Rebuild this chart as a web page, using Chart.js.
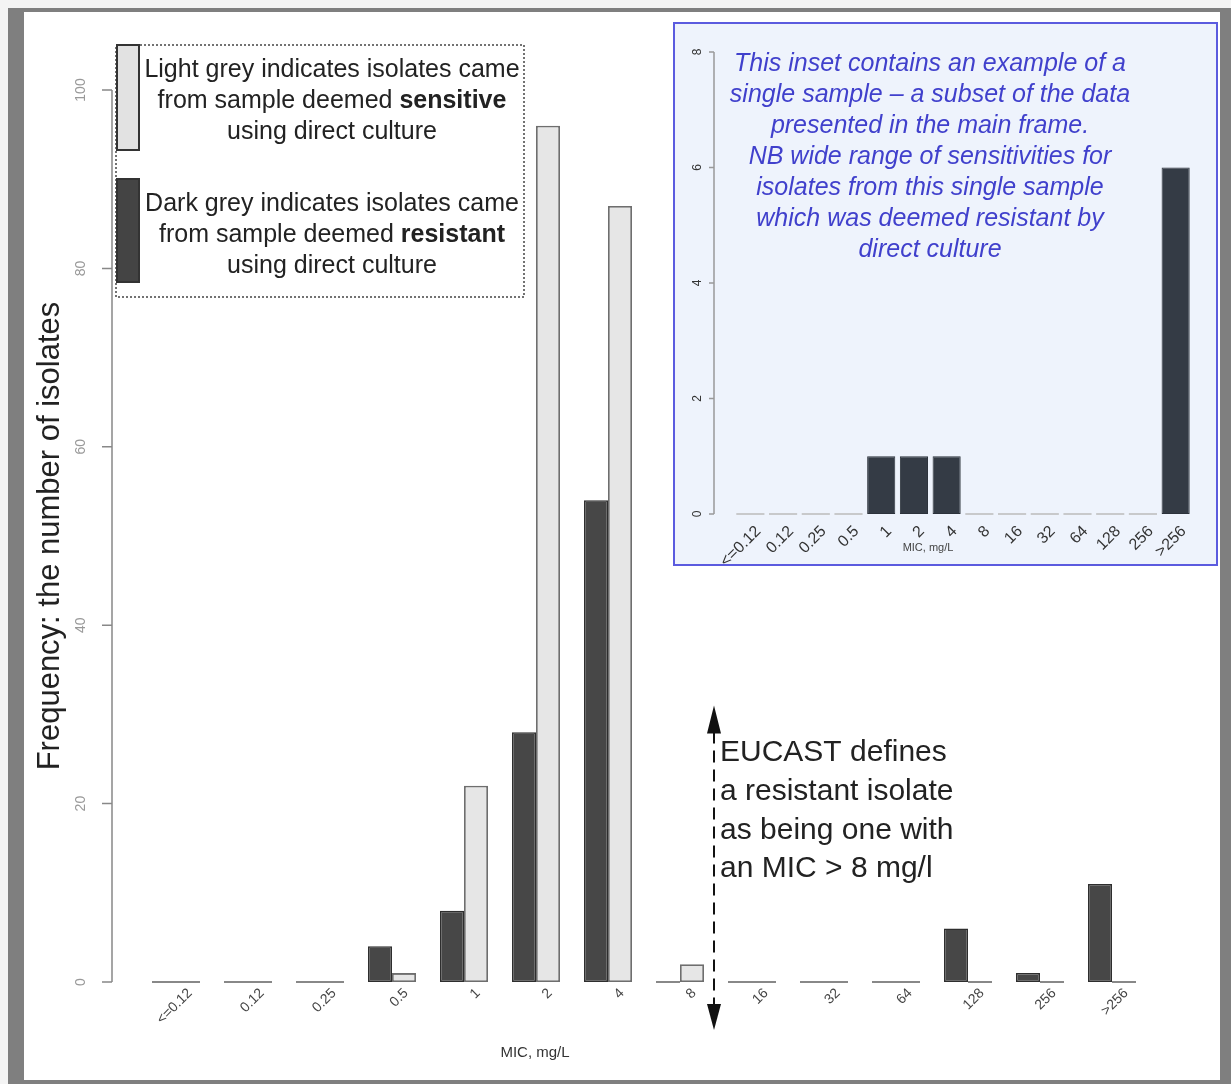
<!DOCTYPE html>
<html>
<head>
<meta charset="utf-8">
<script src="https://cdn.jsdelivr.net/npm/chart.js@4.4.1/dist/chart.umd.min.js"></script>
<style>
  html, body { margin: 0; padding: 0; background: #f4f4f4; }
  #frame {
    position: absolute; left: 8px; top: 8px;
    width: 1196px; height: 1068px;
    border-style: solid; border-color: #7f7f7f;
    border-width: 4px 11px 4px 16px;
    background: #fff;
  }
  #main { position: absolute; left: 0; top: 0; }
  #insetBox {
    position: absolute; left: 649px; top: 10px;
    width: 541px; height: 540px;
    border: 2px solid #5b5bdf;
    background: #eef3fc;
  }
  #inset { position: absolute; left: 0; top: 0; }
</style>
</head>
<body>
<div id="frame">
  <canvas id="main" width="1196" height="1068"></canvas>
  <div id="insetBox"><canvas id="inset" width="541" height="540"></canvas></div>
</div>
<script>
var FONT = '"Liberation Sans", Arial, sans-serif';

// MIC categories (mg/L)
var micLabels = ['<=0.12', '0.12', '0.25', '0.5', '1', '2', '4', '8', '16', '32', '64', '128', '256', '>256'];
// isolates from samples deemed resistant by direct culture (dark grey)
var resistantCounts = [0, 0, 0, 4, 8, 28, 54, 0, 0, 0, 0, 6, 1, 11];
// isolates from samples deemed sensitive by direct culture (light grey)
var sensitiveCounts = [0, 0, 0, 1, 22, 96, 87, 2, 0, 0, 0, 0, 0, 0];
// inset: a single resistant sample
var insetCounts = [0, 0, 0, 0, 1, 1, 1, 0, 0, 0, 0, 0, 0, 6];

var legendLight = [
    [['Light grey indicates isolates came', false]],
    [['from sample deemed ', false], ['sensitive', true]],
    [['using direct culture', false]]
];
var legendDark = [
    [['Dark grey indicates isolates came', false]],
    [['from sample deemed ', false], ['resistant', true]],
    [['using direct culture', false]]
];
var eucastLines = ['EUCAST defines', 'a resistant isolate', 'as being one with', 'an MIC > 8 mg/l'];
var insetLines = [
    'This inset contains an example of a',
    'single sample \u2013 a subset of the data',
    'presented in the main frame.',
    'NB wide range of sensitivities for',
    'isolates from this single sample',
    'which was deemed resistant by',
    'direct culture'
];

function richLine(ctx, parts, cx, y, size) {
    var total = 0;
    parts.forEach(function (p) {
        ctx.font = (p[1] ? 'bold ' : '') + size + 'px ' + FONT;
        total += ctx.measureText(p[0]).width;
    });
    var x = cx - total / 2;
    ctx.textAlign = 'left';
    parts.forEach(function (p) {
        ctx.font = (p[1] ? 'bold ' : '') + size + 'px ' + FONT;
        ctx.fillText(p[0], x, y);
        x += ctx.measureText(p[0]).width;
    });
}

// zero-height bars are shown as a flat line, like R's barplot
function zeroLines(color, width) {
    return {
        id: 'zeroLines',
        afterDatasetsDraw: function (chart) {
            var ctx = chart.ctx;
            ctx.save();
            ctx.strokeStyle = color;
            ctx.lineWidth = width;
            chart.data.datasets.forEach(function (ds, i) {
                chart.getDatasetMeta(i).data.forEach(function (bar, j) {
                    if (ds.data[j] !== 0) return;
                    ctx.beginPath();
                    ctx.moveTo(bar.x - bar.width / 2, bar.base);
                    ctx.lineTo(bar.x + bar.width / 2, bar.base);
                    ctx.stroke();
                });
            });
            ctx.restore();
        }
    };
}

// R style y axis: line between first and last tick, labels parallel to axis
function rAxis(gap, tickLen, labelGap, fontSize, lineColor, textColor) {
    return {
        id: 'rAxis',
        afterDraw: function (chart) {
            var ctx = chart.ctx, y = chart.scales.y;
            var ax = chart.chartArea.left - gap;
            var ticks = y.ticks;
            ctx.save();
            ctx.strokeStyle = lineColor;
            ctx.lineWidth = 1.5;
            ctx.beginPath();
            ctx.moveTo(ax, y.getPixelForValue(ticks[0].value));
            ctx.lineTo(ax, y.getPixelForValue(ticks[ticks.length - 1].value));
            ticks.forEach(function (t) {
                var py = y.getPixelForValue(t.value);
                ctx.moveTo(ax, py);
                ctx.lineTo(ax - tickLen, py);
            });
            ctx.stroke();
            ctx.fillStyle = textColor;
            ctx.font = fontSize + 'px ' + FONT;
            ctx.textAlign = 'center';
            ctx.textBaseline = 'middle';
            ticks.forEach(function (t) {
                ctx.save();
                ctx.translate(ax - labelGap, y.getPixelForValue(t.value));
                ctx.rotate(-Math.PI / 2);
                ctx.fillText(String(t.value), 0, 0);
                ctx.restore();
            });
            ctx.restore();
        }
    };
}

var mainNotes = {
    id: 'mainNotes',
    afterDraw: function (chart) {
        var ctx = chart.ctx, xs = chart.scales.x, ys = chart.scales.y, area = chart.chartArea;
        ctx.save();

        // legend
        ctx.setLineDash([2, 2]);
        ctx.strokeStyle = '#444';
        ctx.lineWidth = 1.5;
        ctx.strokeRect(92, 33, 408, 252);
        ctx.setLineDash([]);
        ctx.lineWidth = 2;
        ctx.fillStyle = '#e2e2e2';
        ctx.fillRect(93, 33, 22, 105);
        ctx.strokeStyle = '#333';
        ctx.strokeRect(93, 33, 22, 105);
        ctx.fillStyle = '#444';
        ctx.fillRect(93, 167, 22, 103);
        ctx.strokeRect(93, 167, 22, 103);

        ctx.fillStyle = '#222';
        ctx.textBaseline = 'middle';
        legendLight.forEach(function (l, i) { richLine(ctx, l, 308, 58 + i * 31, 25); });
        legendDark.forEach(function (l, i) { richLine(ctx, l, 308, 192 + i * 31, 25); });

        // EUCAST breakpoint arrow between 8 and 16
        var bx = (xs.getPixelForValue(7) + xs.getPixelForValue(8)) / 2 - 2;
        var top = ys.getPixelForValue(31);
        var bottom = area.bottom + 48;
        ctx.strokeStyle = '#111';
        ctx.lineWidth = 2;
        ctx.setLineDash([12, 7]);
        ctx.beginPath();
        ctx.moveTo(bx, top + 26);
        ctx.lineTo(bx, bottom - 24);
        ctx.stroke();
        ctx.setLineDash([]);
        ctx.fillStyle = '#111';
        ctx.beginPath();
        ctx.moveTo(bx, top);
        ctx.lineTo(bx - 7, top + 28);
        ctx.lineTo(bx + 7, top + 28);
        ctx.closePath();
        ctx.fill();
        ctx.beginPath();
        ctx.moveTo(bx, bottom);
        ctx.lineTo(bx - 7, bottom - 26);
        ctx.lineTo(bx + 7, bottom - 26);
        ctx.closePath();
        ctx.fill();

        ctx.fillStyle = '#222';
        ctx.font = '30px ' + FONT;
        ctx.textAlign = 'left';
        eucastLines.forEach(function (t, i) { ctx.fillText(t, bx + 6, 741 + i * 38.7); });

        // x axis title
        ctx.font = '15px ' + FONT;
        ctx.fillStyle = '#333';
        ctx.textAlign = 'center';
        ctx.fillText('MIC, mg/L', 511, 1041);
        ctx.restore();
    }
};

var insetNotes = {
    id: 'insetNotes',
    afterDraw: function (chart) {
        var ctx = chart.ctx;
        ctx.save();
        ctx.fillStyle = '#4040cc';
        ctx.font = 'italic 25px ' + FONT;
        ctx.textAlign = 'center';
        ctx.textBaseline = 'middle';
        insetLines.forEach(function (t, i) { ctx.fillText(t, 255, 40 + i * 31); });
        ctx.fillStyle = '#444';
        ctx.font = '11px ' + FONT;
        ctx.fillText('MIC, mg/L', 253, 524);
        ctx.restore();
    }
};

new Chart(document.getElementById('main'), {
    type: 'bar',
    data: {
        labels: micLabels,
        datasets: [
            {label: 'resistant', data: resistantCounts, backgroundColor: '#474747', borderColor: '#2e2e2e', borderWidth: 1.5, borderSkipped: false},
            {label: 'sensitive', data: sensitiveCounts, backgroundColor: '#e6e6e6', borderColor: '#6e6e6e', borderWidth: 1.8, borderSkipped: false}
        ]
    },
    options: {
        responsive: false,
        animation: false,
        layout: {padding: {top: 78, right: 72, left: 0, bottom: 0}},
        datasets: {bar: {categoryPercentage: 0.6667, barPercentage: 1}},
        plugins: {legend: {display: false}, tooltip: {enabled: false}},
        scales: {
            x: {
                grid: {display: false},
                border: {display: false},
                ticks: {autoSkip: false, minRotation: 45, maxRotation: 45, labelOffset: 14, padding: -5,
                    color: '#444', font: {family: FONT, size: 14}},
                afterFit: function (s) { s.height = 98; }
            },
            y: {
                min: 0, max: 100,
                grid: {display: false},
                border: {display: false},
                ticks: {display: false, stepSize: 20},
                title: {display: true, text: 'Frequency: the number of isolates', color: '#222',
                    font: {family: FONT, size: 31}, padding: {top: 8, bottom: 0}},
                afterFit: function (s) { s.width = 116; }
            }
        }
    },
    plugins: [zeroLines('#888', 2), rAxis(28, 10, 31, 14, '#888', '#999'), mainNotes]
});

new Chart(document.getElementById('inset'), {
    type: 'bar',
    data: {
        labels: micLabels,
        datasets: [
            {label: 'single sample', data: insetCounts, backgroundColor: '#343b45', borderColor: '#2c323b', borderWidth: 1, borderSkipped: false}
        ]
    },
    options: {
        responsive: false,
        animation: false,
        layout: {padding: {top: 28, right: 24, left: 0, bottom: 0}},
        datasets: {bar: {categoryPercentage: 1, barPercentage: 0.86}},
        plugins: {legend: {display: false}, tooltip: {enabled: false}},
        scales: {
            x: {
                grid: {display: false},
                border: {display: false},
                ticks: {autoSkip: false, minRotation: 45, maxRotation: 45, labelOffset: 8, padding: 0,
                    color: '#333', font: {family: FONT, size: 16}},
                afterFit: function (s) { s.height = 50; }
            },
            y: {
                min: 0, max: 8,
                grid: {display: false},
                border: {display: false},
                ticks: {display: false, stepSize: 2},
                afterFit: function (s) { s.width = 59; }
            }
        }
    },
    plugins: [zeroLines('#bbb', 1.5), rAxis(20, 5, 16, 12, '#999', '#333'), insetNotes]
});
</script>
</body>
</html>
